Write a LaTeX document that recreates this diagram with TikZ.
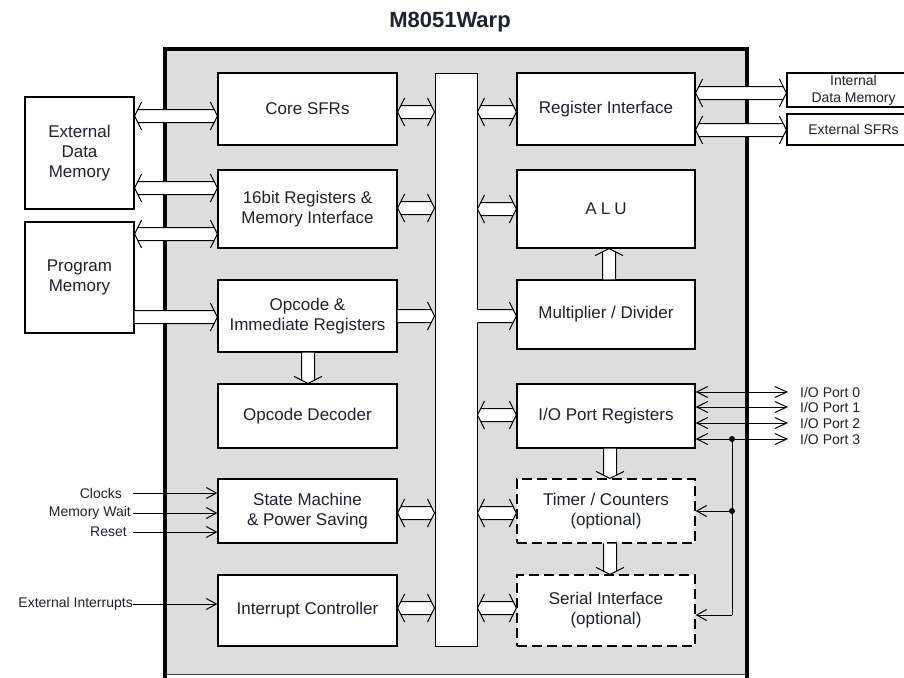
\documentclass[tikz,border=0pt]{standalone}
\usepackage{fontspec}
\setmainfont{Liberation Sans}
\usetikzlibrary{arrows.meta,calc}
\definecolor{chipgray}{RGB}{221,221,221}
\definecolor{txt}{RGB}{30,34,44}
\tikzset{
  blk/.style={draw, line width=1.3pt, fill=white, inner sep=1pt, align=center, text=txt, font=\fontsize{17}{20}\selectfont},
  dblk/.style={blk, dash pattern=on 10pt off 5pt},
  small/.style={text=txt, font=\fontsize{14}{17}\selectfont, inner sep=0pt, align=center},
  wline/.style={draw=black, line width=1pt},
  sig/.style={line width=1pt, -{Straight Barb[length=10pt,width=11pt]}},
  sigboth/.style={line width=1pt, {Straight Barb[length=11pt,width=11pt]}-{Straight Barb[length=12pt,width=11pt]}},
}
% hollow wide double arrow (horizontal)
\newcommand{\wdbl}[2]{%
  \fill[white] let \p1=(#1), \p2=(#2) in (\x1,\y1) -- ({\x1+3.25pt},{\y1+6.5pt}) -- ({\x2-3.25pt},{\y1+6.5pt}) -- (\x2,\y1) -- ({\x2-3.25pt},{\y1-6.5pt}) -- ({\x1+3.25pt},{\y1-6.5pt}) -- cycle;
  \draw[wline] let \p1=(#1), \p2=(#2) in ({\x1+7pt},{\y1+14pt}) -- (\x1,\y1) -- ({\x1+7pt},{\y1-14pt})
     ({\x1+3.25pt},{\y1+6.5pt}) -- ({\x2-3.25pt},{\y1+6.5pt})
     ({\x1+3.25pt},{\y1-6.5pt}) -- ({\x2-3.25pt},{\y1-6.5pt})
     ({\x2-7pt},{\y1+14pt}) -- (\x2,\y1) -- ({\x2-7pt},{\y1-14pt});
}
% hollow wide single arrow (to the right); #3 = extra fill to the left
\newcommand{\wsgl}[3]{%
  \fill[white] let \p1=(#1), \p2=(#2) in ({\x1-#3pt},{\y1+6.5pt}) -- ({\x2-3.25pt},{\y1+6.5pt}) -- (\x2,\y1) -- ({\x2-3.25pt},{\y1-6.5pt}) -- ({\x1-#3pt},{\y1-6.5pt}) -- cycle;
  \draw[wline] let \p1=(#1), \p2=(#2) in (\x1,{\y1+6.5pt}) -- ({\x2-3.25pt},{\y1+6.5pt})
     (\x1,{\y1-6.5pt}) -- ({\x2-3.25pt},{\y1-6.5pt})
     ({\x2-7pt},{\y1+14pt}) -- (\x2,\y1) -- ({\x2-7pt},{\y1-14pt});
}
% hollow wide single arrow, downwards
\newcommand{\wdown}[2]{%
  \fill[white] let \p1=(#1), \p2=(#2) in ({\x1-6.5pt},\y1) -- ({\x1-6.5pt},{\y2+3.25pt}) -- (\x1,\y2) -- ({\x1+6.5pt},{\y2+3.25pt}) -- ({\x1+6.5pt},\y1) -- cycle;
  \draw[wline] let \p1=(#1), \p2=(#2) in ({\x1-6.5pt},\y1) -- ({\x1-6.5pt},{\y2+3.25pt})
     ({\x1+6.5pt},\y1) -- ({\x1+6.5pt},{\y2+3.25pt})
     ({\x1-14pt},{\y2+7pt}) -- (\x1,\y2) -- ({\x1+14pt},{\y2+7pt});
}
% hollow wide single arrow, upwards
\newcommand{\wup}[2]{%
  \fill[white] let \p1=(#1), \p2=(#2) in ({\x1-6.5pt},\y1) -- ({\x1-6.5pt},{\y2-3.25pt}) -- (\x1,\y2) -- ({\x1+6.5pt},{\y2-3.25pt}) -- ({\x1+6.5pt},\y1) -- cycle;
  \draw[wline] let \p1=(#1), \p2=(#2) in ({\x1-6.5pt},\y1) -- ({\x1-6.5pt},{\y2-3.25pt})
     ({\x1+6.5pt},\y1) -- ({\x1+6.5pt},{\y2-3.25pt})
     ({\x1-14pt},{\y2-7pt}) -- (\x1,\y2) -- ({\x1+14pt},{\y2-7pt});
}
\begin{document}
\begin{tikzpicture}[x=1pt,y=-1pt]
\useasboundingbox (0,0) rectangle (904,677);
\clip (0,0) rectangle (904,677);
\fill[white] (0,0) rectangle (904,677);

% title
\node[text=txt, font=\fontsize{22}{26}\selectfont\bfseries] (title) at (450,22) {M8051Warp};

% chip outline
\fill[chipgray] (165,49) rectangle (747,674);
\draw[line width=0.8pt, black!75] (165,674) -- (747,674);
\draw[line width=4pt, line join=miter] (165,680) -- (165,49) -- (747,49) -- (747,680);

% left column
\node[blk, minimum width=179pt, minimum height=72pt] (core) at (307.5,109) {Core SFRs};
\node[blk, minimum width=179pt, minimum height=78pt] (b16) at (307.5,209) {16bit Registers \&\\Memory Interface};
\node[blk, minimum width=179pt, minimum height=72pt] (opc) at (307.5,316) {Opcode \&\\Immediate Registers};
\node[blk, minimum width=179pt, minimum height=64pt] (dec) at (307.5,416) {Opcode Decoder};
\node[blk, minimum width=179pt, minimum height=64pt] (sm) at (307.5,511) {State Machine\\\& Power Saving};
\node[blk, minimum width=179pt, minimum height=71pt] (intc) at (307.5,610.5) {Interrupt Controller};

% bus
\node[draw, line width=1pt, fill=white, minimum width=42pt, minimum height=573pt, inner sep=0pt] (bus) at (456,359.5) {};

% right column
\node[blk, minimum width=178pt, minimum height=72pt] (regi) at (606,109) {Register Interface};
\node[blk, minimum width=178pt, minimum height=78pt] (alu) at (606,209) {A\hspace{4pt}L\hspace{4pt}U};
\node[blk, minimum width=178pt, minimum height=69pt] (mult) at (606,314.5) {Multiplier / Divider};
\node[blk, minimum width=178pt, minimum height=64pt] (io) at (606,416) {I/O Port Registers};
\node[dblk, minimum width=178pt, minimum height=64pt] (timer) at (606,511) {Timer / Counters\\(optional)};
\node[dblk, minimum width=178pt, minimum height=71pt] (serial) at (606,610.5) {Serial Interface\\(optional)};

% external blocks
\node[blk, minimum width=109pt, minimum height=112pt] (extdata) at (79.5,153) {External\\Data\\Memory};
\node[blk, minimum width=109pt, minimum height=111pt] (progmem) at (79.5,277.5) {Program\\Memory};
\node[blk, small, draw, fill=white, line width=1.3pt, minimum width=133pt, minimum height=34pt] (intmem) at (853.5,90) {Internal\\Data Memory};
\node[blk, small, draw, fill=white, line width=1.3pt, minimum width=133pt, minimum height=31pt] (extsfr) at (853.5,129.5) {External SFRs};

% wide arrows
\wdbl{extdata.east |- 0,116}{core.west |- 0,116}
\wdbl{extdata.east |- 0,188}{b16.west |- 0,188}
\wdbl{progmem.east |- 0,234}{b16.west |- 0,234}
\wsgl{progmem.east |- 0,317}{opc.west |- 0,317}{0}
\wdbl{core.east |- 0,112}{bus.west |- 0,112}
\wdbl{b16.east |- 0,208}{bus.west |- 0,208}
\wsgl{opc.east |- 0,316}{bus.west |- 0,316}{0}
\wdbl{sm.east |- 0,513}{bus.west |- 0,513}
\wdbl{intc.east |- 0,608}{bus.west |- 0,608}
\wdbl{bus.east |- 0,112}{regi.west |- 0,112}
\wdbl{bus.east |- 0,209}{alu.west |- 0,209}
\wsgl{bus.east |- 0,316}{mult.west |- 0,316}{1.5}
\wdbl{bus.east |- 0,415}{io.west |- 0,415}
\wdbl{bus.east |- 0,513}{timer.west |- 0,513}
\wdbl{bus.east |- 0,608}{serial.west |- 0,608}
\wdbl{regi.east |- 0,93}{intmem.west |- 0,93}
\wdbl{regi.east |- 0,130}{extsfr.west |- 0,130}
\wdown{opc.south -| 308,0}{dec.north -| 308,0}
\wup{mult.north -| 609,0}{alu.south -| 609,0}
\wdown{io.south -| 610,0}{timer.north -| 610,0}
\wdown{timer.south -| 610,0}{serial.north -| 610,0}

% control inputs
\node[small, anchor=east] (lclk) at (122,493) {Clocks};
\node[small, anchor=east] (lmw) at (131,513) {Memory Wait};
\node[small, anchor=east] (lrst) at (127,532) {Reset};
\node[small, anchor=east] (leint) at (133,604) {External Interrupts};
\coordinate (cclk) at (133,493);
\coordinate (cmw) at (133,513);
\coordinate (crst) at (133,532);
\coordinate (ceint) at (133,604);
\draw[sig] (cclk) -- (sm.west |- cclk);
\draw[sig] (cmw) -- (sm.west |- cmw);
\draw[sig] (crst) -- (sm.west |- crst);
\draw[sig] (ceint) -- (intc.west |- ceint);

% I/O ports
\coordinate (p0) at (788,392);
\coordinate (p1) at (788,407);
\coordinate (p2) at (788,423);
\coordinate (p3) at (788,439);
\draw[sigboth] (io.east |- p0) -- (p0);
\draw[sigboth] (io.east |- p1) -- (p1);
\draw[sigboth] (io.east |- p2) -- (p2);
\draw[sigboth] (io.east |- p3) -- (p3);
\node[small, anchor=west] (lp0) at (800,392) {I/O Port 0};
\node[small, anchor=west] (lp1) at (800,407) {I/O Port 1};
\node[small, anchor=west] (lp2) at (800,423) {I/O Port 2};
\node[small, anchor=west] (lp3) at (800,439) {I/O Port 3};

% port 3 feed to timer and serial
\coordinate (j1) at (732,439);
\coordinate (j2) at (732,511);
\coordinate (j3) at (732,615);
\draw[line width=1pt] (j1) -- (j3);
\draw[sig] (j2) -- (timer.east |- j2);
\draw[sig] (j3) -- (serial.east |- j3);
\fill (j1) circle (3pt);
\fill (j2) circle (3pt);
\end{tikzpicture}
\end{document}
